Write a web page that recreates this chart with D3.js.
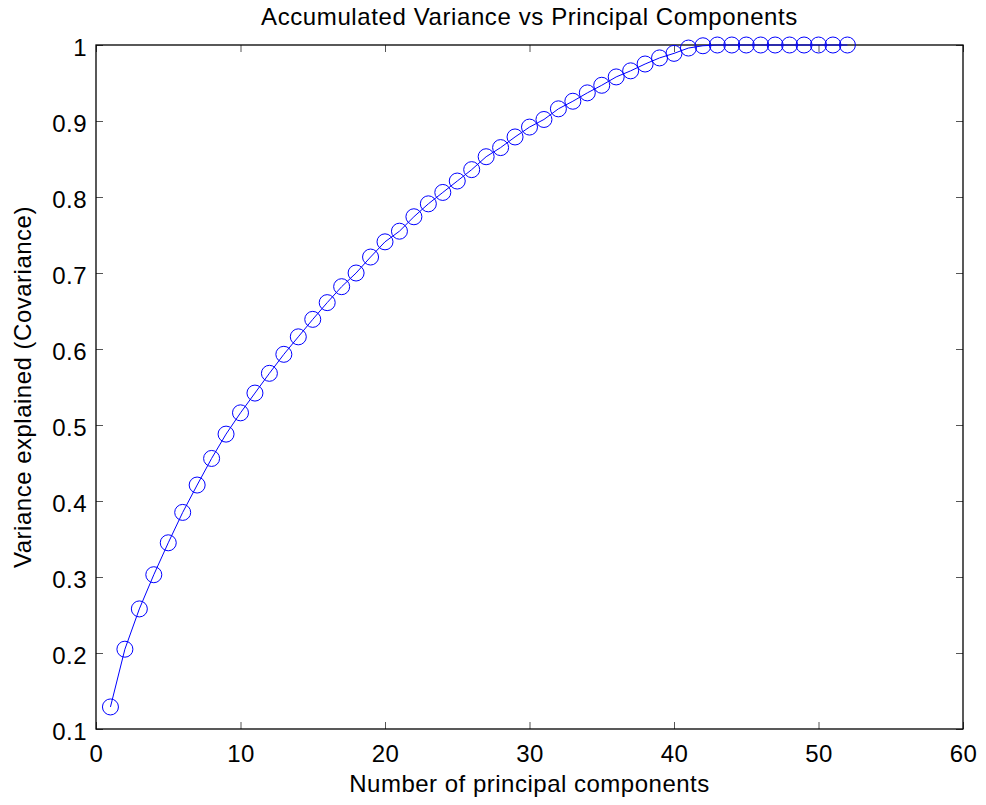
<!DOCTYPE html>
<html>
<head>
<meta charset="utf-8">
<script src="https://cdn.jsdelivr.net/npm/d3@7"></script>
<style>
  html, body { margin: 0; padding: 0; background: #fff; }
  text { font-family: "Liberation Sans", Arial, Helvetica, sans-serif; fill: #000; }
</style>
</head>
<body>
<svg id="chart" width="986" height="805"></svg>
<script>
// Number of principal components retained
const components = d3.range(1, 53);
// Cumulative fraction of variance explained
const cumulativeVariance = [
  0.129, 0.205, 0.258, 0.303, 0.345, 0.385, 0.421, 0.456, 0.488, 0.516,
  0.542, 0.568, 0.593, 0.616, 0.639, 0.661, 0.682, 0.700, 0.721, 0.741,
  0.755, 0.774, 0.791, 0.806, 0.821, 0.836, 0.853, 0.865, 0.879, 0.892,
  0.902, 0.916, 0.926, 0.937, 0.947, 0.958, 0.966, 0.975, 0.983, 0.989,
  0.996, 0.999, 1.000, 1.000, 1.000, 1.000, 1.000, 1.000, 1.000, 1.000,
  1.000, 1.000
];
const xTicks = [0, 10, 20, 30, 40, 50, 60];
const yTicks = [0.1, 0.2, 0.3, 0.4, 0.5, 0.6, 0.7, 0.8, 0.9, 1];

const titleText = "Accumulated Variance vs Principal Components";
const xLabel = "Number of principal components";
const yLabel = "Variance explained (Covariance)";

const width = 986, height = 805;
const margin = { left: 96, right: width - 963, top: 45, bottom: height - 729 };
const svg = d3.select("#chart");

const x = d3.scaleLinear().domain([0, 60]).range([margin.left, width - margin.right]);
const y = d3.scaleLinear().domain([0.1, 1]).range([height - margin.bottom, margin.top]);

const tickLen = 7;
const tickColor = "#555";
const fontSize = "24px";
const spacing = "0.5px";

// Ticks drawn inward on all four sides of the box
const g = svg.append("g");
const fmtY = d => String(+d.toFixed(1));

g.append("g")
  .attr("transform", `translate(0,${y(0.1)})`)
  .call(d3.axisBottom(x).tickValues(xTicks).tickSize(-tickLen).tickPadding(16).tickFormat(d3.format("d")))
  .call(a => a.select(".domain").remove());
g.append("g")
  .attr("transform", `translate(0,${y(1)})`)
  .call(d3.axisTop(x).tickValues(xTicks).tickSize(-tickLen).tickFormat(""))
  .call(a => a.select(".domain").remove());
g.append("g")
  .attr("transform", `translate(${x(0)},0)`)
  .call(d3.axisLeft(y).tickValues(yTicks).tickSize(-tickLen).tickPadding(9).tickFormat(fmtY))
  .call(a => a.select(".domain").remove())
  .call(a => a.selectAll(".tick text").attr("dy", "0.42em"));
g.append("g")
  .attr("transform", `translate(${x(60)},0)`)
  .call(d3.axisRight(y).tickValues(yTicks).tickSize(-tickLen).tickFormat(""))
  .call(a => a.select(".domain").remove());

g.selectAll(".tick line").attr("stroke", tickColor).attr("stroke-width", 1);
g.selectAll(".tick text")
  .style("font-size", fontSize)
  .style("letter-spacing", spacing)
  .attr("fill", "#000");

// Plot box
svg.append("rect")
  .attr("x", x(0)).attr("y", y(1))
  .attr("width", x(60) - x(0)).attr("height", y(0.1) - y(1))
  .attr("fill", "none").attr("stroke", "#000").attr("stroke-width", 1.3);

const data = components.map((c, i) => ({ c, v: cumulativeVariance[i] }));

const line = d3.line().x(d => x(d.c)).y(d => y(d.v));
svg.append("path")
  .datum(data)
  .attr("d", line)
  .attr("fill", "none")
  .attr("stroke", "#0000ff")
  .attr("stroke-width", 1);

svg.append("g").selectAll("circle")
  .data(data)
  .join("circle")
  .attr("cx", d => x(d.c))
  .attr("cy", d => y(d.v))
  .attr("r", 8)
  .attr("fill", "none")
  .attr("stroke", "#0000ff")
  .attr("stroke-width", 1);

svg.append("text")
  .attr("x", (x(0) + x(60)) / 2).attr("y", 25)
  .attr("text-anchor", "middle")
  .style("font-size", "24px")
  .style("letter-spacing", "0.6px")
  .text(titleText);

svg.append("text")
  .attr("x", (x(0) + x(60)) / 2).attr("y", 792)
  .attr("text-anchor", "middle")
  .style("font-size", fontSize)
  .style("letter-spacing", spacing)
  .text(xLabel);

svg.append("text")
  .attr("transform", `translate(31,${(y(0.1) + y(1)) / 2}) rotate(-90)`)
  .attr("text-anchor", "middle")
  .style("font-size", fontSize)
  .style("letter-spacing", spacing)
  .text(yLabel);
</script>
</body>
</html>
